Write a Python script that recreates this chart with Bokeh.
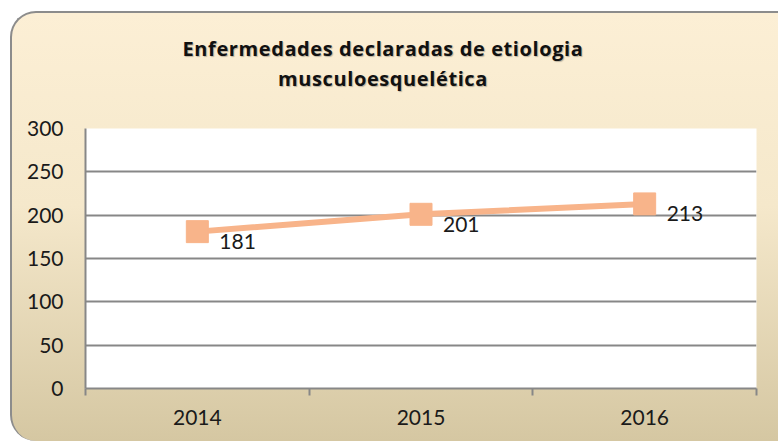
from bokeh.plotting import figure
from bokeh.layouts import column
from bokeh.models import Range1d, FixedTicker, ColumnDataSource, Div
from bokeh.embed import file_html
from bokeh.resources import INLINE
from bokeh.core.properties import value

years = ["2014", "2015", "2016"]
cases = [181, 201, 213]
y_ticks = [0, 50, 100, 150, 200, 250, 300]
title_lines = ["Enfermedades declaradas de etiologia", "musculoesquelética"]

# positions of the categories on a unit-width axis
xpos = [i + 0.5 for i in range(len(years))]
boundaries = list(range(len(years) + 1))

TICK_FONT = "Lato"
GRID = "#878787"
SERIES = "#F8B48A"

title = Div(
    text="<div style=\"width:742px;text-align:center;padding-top:21px;"
         "font-family:'Open Sans';font-weight:bold;font-size:20px;letter-spacing:0.6px;"
         "line-height:30px;color:#111111;text-shadow:1px 1px 1px rgba(0,0,0,0.25);\">"
         + "<br>".join(title_lines) + "</div>",
    width=766, height=95, margin=0,
)

p = figure(
    width=766, height=333,
    output_backend="svg", toolbar_location=None,
    x_range=Range1d(0, len(years)), y_range=Range1d(y_ticks[0], y_ticks[-1]),
    min_border_left=73, min_border_right=22, min_border_top=20, min_border_bottom=53,
    background_fill_color="white", border_fill_alpha=0, outline_line_color=None,
    margin=0,
)

# axes
p.xaxis.ticker = FixedTicker(ticks=xpos, minor_ticks=boundaries)
p.xaxis.major_label_overrides = {x: y for x, y in zip(xpos, years)}
p.xaxis.major_tick_line_color = None
p.xaxis.major_tick_out = 0
p.xaxis.major_tick_in = 0
p.xaxis.minor_tick_line_color = GRID
p.xaxis.minor_tick_line_width = 2
p.xaxis.minor_tick_out = 7
p.xaxis.minor_tick_in = 0
p.xaxis.major_label_standoff = 14

p.yaxis.ticker = FixedTicker(ticks=y_ticks)
p.yaxis.major_tick_line_color = None
p.yaxis.minor_tick_line_color = None
p.yaxis.major_tick_out = 0
p.yaxis.major_tick_in = 0
p.yaxis.major_label_standoff = 22

for ax in (p.xaxis, p.yaxis):
    ax.axis_line_color = GRID
    ax.axis_line_width = 2
    ax.major_label_text_font = TICK_FONT
    ax.major_label_text_font_size = "21px"
    ax.major_label_text_color = "#1a1a1a"

p.xgrid.grid_line_color = None
p.ygrid.ticker = FixedTicker(ticks=y_ticks)
p.ygrid.grid_line_color = GRID
p.ygrid.grid_line_width = 2

src = ColumnDataSource(dict(x=xpos, y=cases, label=[str(v) for v in cases]))
p.line("x", "y", source=src, line_color=SERIES, line_width=6)
p.scatter("x", "y", source=src, marker="square", size=22,
          fill_color=SERIES, line_color=SERIES)
p.text("x", "y", text="label", source=src, x_offset=22, y_offset=10,
       text_align="left", text_baseline="middle",
       text_font=value(TICK_FONT), text_font_size="21px", text_color="#1a1a1a")

layout = column(
    title, p, spacing=0,
    styles={
        "position": "relative",
        "left": "10px",
        "top": "11px",
        "background": "linear-gradient(to bottom, #FCEFD5 0%, #F5E8CB 45%, #D5C7A2 100%)",
        "border-top": "2px solid #8C8C8C",
        "border-left": "2px solid #8C8C8C",
        "border-top-left-radius": "26px",
        "border-bottom-left-radius": "26px",
    },
)

open("out.html", "w").write(file_html(layout, INLINE))
